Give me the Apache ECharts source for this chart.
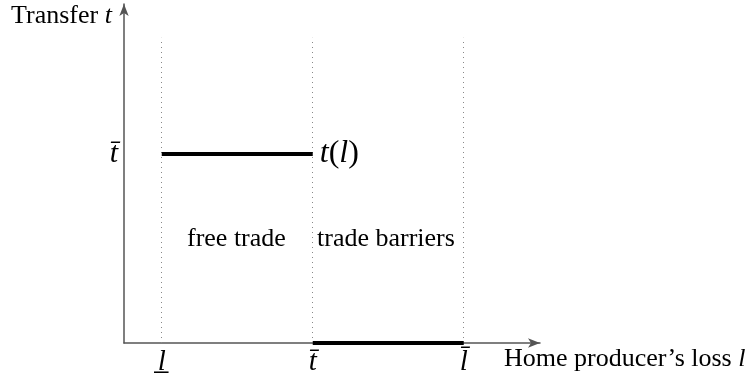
<!DOCTYPE html>
<html>
<head>
<meta charset="utf-8">
<script src="https://cdn.jsdelivr.net/npm/echarts@6/dist/echarts.min.js"></script>
<style>
  html, body { margin: 0; padding: 0; background: #fff; }
  #main { width: 750px; height: 381px; }
</style>
</head>
<body>
<div id="main"></div>
<script>
// positions on the loss axis: l_low, t_bar, l_bar
var xTicks = [1, 5, 9];
var xTickNames = ['l\u0332', 't\u0304', 'l\u0304'];
var yTicks = [1];
var yTickNames = ['t\u0304'];
// transfer schedule t(l)
var freeTrade = [[1, 1], [5, 1]];
var barriers = [[5, 0], [9, 0]];
var guideTop = 1.614;

var serif = '"Liberation Serif", "DejaVu Serif", serif';

window.onload = function () {
  var chart = echarts.init(document.getElementById('main'));

  var guides = xTicks.map(function (x) {
    return [{ coord: [x, 0] }, { coord: [x, guideTop] }];
  });

  var option = {
    animation: false,
    backgroundColor: '#fff',
    grid: { left: 124, right: 210, top: 4, bottom: 38 },
    xAxis: {
      type: 'value',
      min: 0,
      max: 11.02,
      splitLine: { show: false },
      axisTick: { show: false },
      axisLine: {
        lineStyle: { color: '#555', width: 1.5 },
        symbol: ['none', 'arrow'],
        symbolSize: [7, 12]
      },
      axisLabel: {
        customValues: xTicks,
        formatter: function (v) { return xTickNames[xTicks.indexOf(v)]; },
        fontFamily: serif,
        fontStyle: 'italic',
        fontSize: 29,
        color: '#000',
        margin: 5
      }
    },
    yAxis: {
      type: 'value',
      min: 0,
      max: 1.793,
      splitLine: { show: false },
      axisTick: { show: false },
      axisLine: {
        lineStyle: { color: '#555', width: 1.5 },
        symbol: ['none', 'arrow'],
        symbolSize: [7, 12]
      },
      axisLabel: {
        customValues: yTicks,
        formatter: function (v) { return yTickNames[yTicks.indexOf(v)]; },
        fontFamily: serif,
        fontStyle: 'italic',
        fontSize: 30,
        color: '#000',
        margin: 6
      }
    },
    series: [
      {
        type: 'line',
        data: freeTrade,
        symbol: 'none',
        z: 5,
        lineStyle: { color: '#000', width: 4 },
        endLabel: {
          show: true,
          distance: 7,
          formatter: '{i|t}{r|(}{i|l}{r|)}',
          rich: {
            i: { fontFamily: serif, fontStyle: 'italic', fontSize: 32, color: '#000' },
            r: { fontFamily: serif, fontSize: 32, color: '#000' }
          }
        },
        markLine: {
          silent: true,
          symbol: 'none',
          label: { show: false },
          lineStyle: { color: '#888', type: [1, 4], width: 1 },
          data: guides
        }
      },
      {
        type: 'line',
        data: barriers,
        symbol: 'none',
        z: 5,
        lineStyle: { color: '#000', width: 4 }
      }
    ],
    graphic: [
      {
        type: 'text', left: 11, top: 3,
        style: {
          text: '{r|Transfer }{i|t}',
          rich: {
            r: { fontFamily: serif, fontSize: 26, fill: '#000' },
            i: { fontFamily: serif, fontSize: 26, fontStyle: 'italic', fill: '#000' }
          }
        }
      },
      {
        type: 'text', left: 504, top: 346,
        style: {
          text: '{r|Home producer\u2019s loss }{i|l}',
          rich: {
            r: { fontFamily: serif, fontSize: 26, fill: '#000' },
            i: { fontFamily: serif, fontSize: 26, fontStyle: 'italic', fill: '#000' }
          }
        }
      },
      {
        type: 'text', left: 187, top: 226,
        style: { text: 'free trade', fontFamily: serif, fontSize: 26, fill: '#000' }
      },
      {
        type: 'text', left: 317, top: 226,
        style: { text: 'trade barriers', fontFamily: serif, fontSize: 26, fill: '#000' }
      }
    ]
  };

  chart.setOption(option);
};
</script>
</body>
</html>
